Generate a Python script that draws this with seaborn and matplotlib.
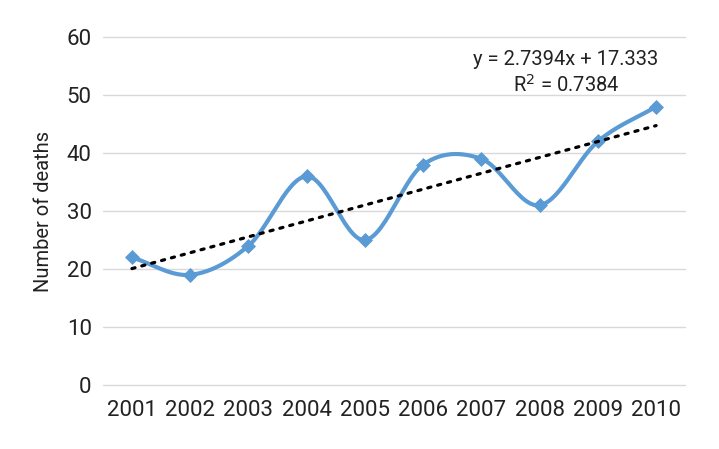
import numpy as np
import pandas as pd
import seaborn as sns
import matplotlib.pyplot as plt

years = [2001, 2002, 2003, 2004, 2005, 2006, 2007, 2008, 2009, 2010]
deaths = [22, 19, 24, 36, 25, 38, 39, 31, 42, 48]
y_ticks = [0, 10, 20, 30, 40, 50, 60]

df = pd.DataFrame({"year": years, "deaths": deaths})


def smooth_line(x, y, n=30):
    """ Excel-like smoothed line (Catmull-Rom through the points) """
    x = np.asarray(x, float)
    y = np.asarray(y, float)
    px = np.concatenate([[2 * x[0] - x[1]], x, [2 * x[-1] - x[-2]]])
    py = np.concatenate([[2 * y[0] - y[1]], y, [2 * y[-1] - y[-2]]])
    xs, ys = [], []
    t = np.linspace(0, 1, n)
    for i in range(1, len(px) - 2):
        for p, out in ((px, xs), (py, ys)):
            p0, p1, p2, p3 = p[i - 1], p[i], p[i + 1], p[i + 2]
            out.extend(0.5 * ((2 * p1) + (-p0 + p2) * t
                              + (2 * p0 - 5 * p1 + 4 * p2 - p3) * t ** 2
                              + (-p0 + 3 * p1 - 3 * p2 + p3) * t ** 3))
    return np.array(xs), np.array(ys)


sns.set_style("white")
plt.rcParams['font.family'] = ['Roboto', 'DejaVu Sans']

fig = plt.figure(figsize=(7.19, 4.49), dpi=100)
ax = fig.add_axes([0.143, 0.1425, 0.81, 0.775])

blue = "#5B9BD5"
sx, sy = smooth_line(df["year"], df["deaths"])
ax.plot(sx, sy, color=blue, lw=3, zorder=3, solid_capstyle="round")
sns.scatterplot(data=df, x="year", y="deaths", marker="D", s=50, color=blue,
                edgecolor=blue, ax=ax, zorder=4)

# linear trend line
sns.regplot(data=df, x="year", y="deaths", scatter=False, ci=None, truncate=True,
            line_kws={"color": "black", "lw": 2.3, "ls": (0, (1, 2.2)),
                      "dash_capstyle": "round", "zorder": 5}, ax=ax)

slope, intercept = np.polyfit(np.arange(1, 11), deaths, 1)
r2 = np.corrcoef(np.arange(1, 11), deaths)[0, 1] ** 2
ax.text(0.795, 0.962, f"y = {slope:.4f}x + {intercept:.3f}\nR$^2$ = {r2:.4f}",
        transform=ax.transAxes, ha="center", va="top", fontsize=14.5,
        linespacing=1.25, color="#222222")

ax.set_xlim(2000.5, 2010.5)
ax.set_ylim(0, 60)
ax.set_yticks(y_ticks)
ax.set_xticks(years)
ax.set_xticklabels([str(y) for y in years])
ax.grid(axis="y", color="#d9d9d9", lw=1)
for gl in ax.get_ygridlines():
    gl.set_clip_on(False)
ax.set_axisbelow(True)
for s in ax.spines.values():
    s.set_visible(False)
ax.tick_params(axis="both", labelsize=16, length=0, colors="#222222")
ax.tick_params(axis="x", pad=11)
ax.tick_params(axis="y", pad=8)
ax.set_xlabel("")
ax.set_ylabel("Number of deaths", fontsize=14.5, color="#222222", labelpad=10)

fig.savefig("out.png", dpi=100)
